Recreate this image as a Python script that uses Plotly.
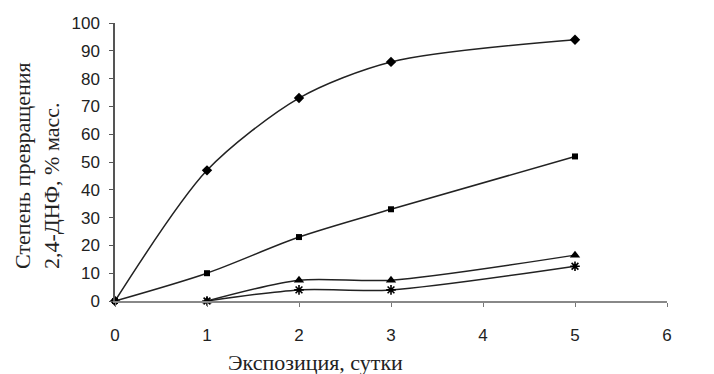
import plotly.graph_objects as go

x_a = [0, 1, 2, 3, 5]
y_diamond = [0, 47, 73, 86, 94]
y_square = [0, 10, 23, 33, 52]
x_b = [1, 2, 3, 5]
y_triangle = [0, 7.5, 7.5, 16.5]
y_star = [0, 4, 4, 12.5]

x_ticks = [0, 1, 2, 3, 4, 5, 6]
y_ticks = [0, 10, 20, 30, 40, 50, 60, 70, 80, 90, 100]

line_col = "#222222"
fig = go.Figure()

def add(xs, ys, sym, size, open_=False):
    marker = dict(symbol=sym, size=size, color="black")
    if open_:
        marker["line"] = dict(color="black", width=1.6)
    fig.add_trace(go.Scatter(
        x=xs, y=ys, mode="lines+markers",
        line=dict(color=line_col, width=1.5, shape="spline", smoothing=0.8),
        marker=marker, showlegend=False, cliponaxis=False))

add(x_a, y_diamond, "diamond", 8)
add(x_a, y_square, "square", 6)
add(x_b, y_triangle, "triangle-up", 9)
add(x_b, y_star, "asterisk-open", 8, open_=True)

L, T, W, H = 115, 23, 552, 278
fig.update_layout(
    width=714, height=374,
    margin=dict(l=L, r=714 - L - W, t=T, b=374 - T - H, autoexpand=False),
    paper_bgcolor="white", plot_bgcolor="white",
    font=dict(family="Liberation Sans, Arial", size=17, color="#222"),
)
fig.update_xaxes(
    range=[0, 6], tickvals=x_ticks, ticks="outside", ticklen=4, tickcolor="#777",
    showline=True, linecolor="#888", linewidth=2, showgrid=False, zeroline=False,
    tickfont=dict(size=17), ticklabelstandoff=14,
)
fig.update_yaxes(
    range=[0, 100], tickvals=y_ticks, ticks="outside", ticklen=4, tickcolor="#555",
    showline=True, linecolor="#555", linewidth=1.5, showgrid=False, zeroline=False,
    tickfont=dict(size=17), ticklabelstandoff=6,
)
fig.add_annotation(
    text="Экспозиция, сутки", xref="paper", yref="paper", x=(315 - L) / W, y=(T + H - 362) / H,
    xanchor="center", yanchor="middle", showarrow=False,
    font=dict(family="Liberation Serif, Times New Roman", size=22, color="#222"),
)
fig.add_annotation(
    text="Степень превращения<br>2,4-ДНФ, % масс.", xref="paper", yref="paper",
    x=(37.5 - L) / W, y=(T + H - 165.5) / H, xanchor="center", yanchor="middle",
    textangle=-90, showarrow=False, align="left",
    font=dict(family="Liberation Serif, Times New Roman", size=22, color="#222"),
)
fig.write_html("out.html", config={"displayModeBar": False},
               post_script="document.body.style.margin='0px';")
